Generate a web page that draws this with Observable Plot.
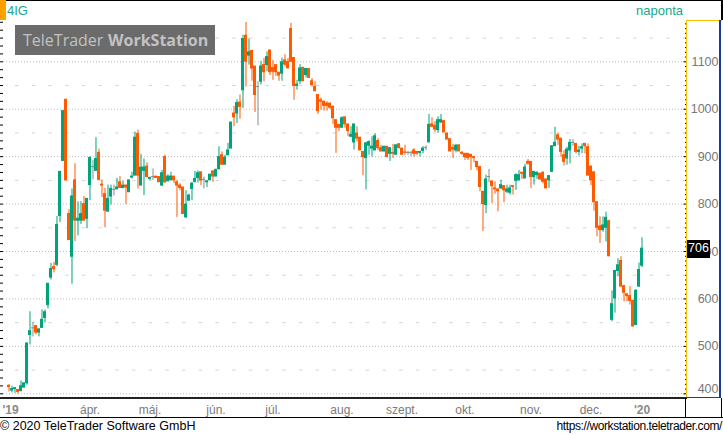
<!DOCTYPE html>
<html><head><meta charset="utf-8">
<script src="https://cdn.jsdelivr.net/npm/d3@7"></script>
<script src="https://cdn.jsdelivr.net/npm/@observablehq/plot@0.6"></script>
<style>
body{margin:0;background:#fff;}
#wrap{position:relative;width:723px;height:435px;overflow:hidden;background:#fff;font-family:"Liberation Sans",Arial,sans-serif;}
.ov{position:absolute;}
</style>
</head><body>
<div id="wrap">
<div id="chart" class="ov" style="left:0;top:0"></div>
</div>
<script>
// ===== data: 4IG daily OHLC (trading-day index 0..211) =====
const open = [417,407,410,408,406,413,422,524,538,543,
529,539,560,587,645,667,672,775,891,1020,
779,689,850,765,765,800,769,840,878,870,
908,841,821,784,816,830,831,846,834,839,
825,856,860,948,839,870,879,853,857,858,
857,839,899,848,850,858,846,839,835,772,
807,832,847,855,867,851,846,850,869,858,
874,903,883,903,917,991,991,1014,1040,1155,
1113,1123,1090,1047,1058,1093,1093,1124,1087,1093,
1077,1075,1103,1100,1169,1108,1049,1059,1087,1072,
1085,1059,1047,1030,1019,1016,1012,1012,1005,977,
967,961,983,968,942,930,949,940,910,897,
923,917,913,933,918,911,921,906,908,904,
926,917,909,908,908,913,910,908,912,918,
930,968,965,956,972,975,949,937,918,913,
924,908,906,906,904,899,889,878,826,798,
857,848,833,831,833,838,826,824,838,849,
850,866,854,889,889,857,861,864,866,852,
850,868,922,945,938,903,896,913,929,927,
910,917,927,920,879,867,804,753,745,750,
764,556,601,659,680,627,610,606,596,545,
626,670];
const close = [414,410,412,404,416,422,506,532,538,529,
536,556,572,632,663,663,756,868,996,850,
724,816,765,769,779,765,811,897,878,895,
851,839,786,811,832,830,835,834,839,835,
850,858,940,860,877,877,857,855,857,855,
846,865,846,858,858,850,839,834,779,799,
818,843,853,865,850,851,848,862,858,872,
899,883,898,913,972,983,1013,1005,1148,1100,
1120,1086,1030,1047,1090,1078,1110,1078,1079,1078,
1071,1099,1094,1086,1100,1049,1052,1086,1059,1085,
1066,1051,1038,996,1016,1007,1007,1003,981,961,
961,981,968,954,946,968,938,913,899,928,
931,921,943,918,911,921,899,918,906,924,
918,904,908,908,908,906,906,910,917,918,
967,963,957,977,977,951,936,911,915,923,
911,906,899,897,899,897,878,836,800,852,
857,838,831,827,840,829,831,833,836,861,
861,864,877,885,857,868,866,852,847,833,
859,922,929,936,910,889,915,929,929,910,
913,920,922,860,850,804,750,745,755,771,
690,589,659,671,626,613,606,596,542,617,
661,706];
const high = [419,416,412,409,427,423,508,573,551,543,
536,577,577,632,675,677,774,868,996,1020,
788,832,885,805,805,816,811,900,892,940,
916,851,833,840,840,840,854,858,849,840,
850,867,952,956,905,895,887,857,874,858,
858,871,903,862,867,858,850,843,835,828,
821,846,869,870,867,857,850,862,869,874,
921,910,903,928,972,1006,1020,1030,1156,1183,
1148,1123,1090,1058,1101,1107,1121,1124,1103,1093,
1077,1108,1115,1107,1181,1108,1061,1094,1089,1086,
1085,1065,1058,1030,1024,1016,1016,1012,1007,977,
967,984,983,968,963,968,963,940,910,930,
933,942,949,938,924,921,921,918,926,924,
928,917,924,911,911,917,910,910,921,923,
989,982,974,984,989,977,949,937,926,926,
924,911,906,906,904,899,889,878,826,861,
873,848,847,831,850,838,840,840,838,864,
871,866,884,894,889,868,868,864,868,852,
859,922,962,950,938,913,920,936,936,927,
922,927,927,927,880,867,804,773,773,783,
766,617,659,685,689,627,610,626,596,620,
676,729];
const low = [404,402,401,399,404,413,418,503,520,524,
520,538,549,579,640,655,668,761,891,850,
724,631,721,733,757,765,748,807,851,870,
851,814,750,784,798,817,831,833,832,799,
825,853,860,832,839,818,855,850,850,855,
846,837,843,848,850,843,772,828,779,770,
807,807,844,844,839,832,835,850,846,858,
871,882,883,903,917,963,970,979,1002,1047,
1093,1059,993,965,1051,1058,1079,1071,1061,1069,
1059,1059,1089,1086,1100,1019,1040,1052,1059,1066,
1066,1047,1037,989,998,996,996,1000,968,907,
953,960,960,942,940,914,931,913,860,830,
903,899,913,913,910,910,899,890,896,904,
916,903,903,903,900,899,903,899,906,913,
930,961,951,949,970,951,936,911,896,908,
911,903,892,892,871,887,870,826,742,780,
845,801,821,784,831,803,822,819,819,829,
850,852,854,882,833,840,852,850,843,833,
833,868,922,924,899,880,882,885,922,906,
901,906,906,860,839,785,731,717,741,720,
689,552,570,647,626,594,594,587,540,545,
624,666];

// x-axis: month labels at the trading-day index where each month starts
const monthLabels = ["ápr.","máj.","jún.","júl.","aug.","szept.","okt.","nov.","dec."];
const monthStart  = [27, 47, 69, 88, 111, 131, 152, 174, 194];
const yearLabels  = ["'19","'20"];
const yearStart   = [0.5, 211];
// y-axis tick labels
const yLabels = [500,600,700,800,900,1000,1100];
const yLabelBottom = [400];
const gridMajor = [400,500,600,700,800,900,1000,1100];
const gridMinor = [450,550,650,750,850,950,1050,1150];

const rows = open.map((o,i)=>({i, open:o, high:high[i], low:low[i], close:close[i]}));
const up = rows.filter(d=>d.close>d.open);
const down = rows.filter(d=>d.close<d.open);
const flat = rows.filter(d=>d.close===d.open);
const GREEN="#00a37c", ORANGE="#ff5a00", GRAY="#8a8a8a";

const rightMinor = d3.range(390, 1190, 10).filter(v=>v%100!==0);
const leftTicks = d3.range(-6, 48).map(k=>400 + k*100/6).filter(v=>v>=391 && v<=1187);

function candles(data, color){
  return [
    Plot.ruleX(data, {x:"i", y1:"low", y2:"high", stroke:color, strokeWidth:1}),
    Plot.rect(data, {x1:d=>d.i-0.5, x2:d=>d.i+0.5, y1:d=>Math.min(d.open,d.close), y2:d=>Math.max(d.open,d.close), fill:color, insetTop:-0.5, insetBottom:-0.5})
  ];
}

const plot = Plot.plot({
  width:723, height:418,
  marginTop:20, marginBottom:20, marginLeft:3, marginRight:37,
  x:{domain:[-1.8333, 225.8333], axis:null, label:null},
  y:{domain:[390.1, 1187.1], axis:null, label:null},
  style:{fontFamily:"'Liberation Sans', Arial, sans-serif", background:"transparent", overflow:"visible"},
  marks:[
    Plot.gridY(gridMajor, {stroke:"#bdbdbd", strokeOpacity:1, strokeDasharray:"1,2"}),
    Plot.gridY(gridMinor, {stroke:"#d4d4d4", strokeOpacity:1, strokeDasharray:"3.5,13.2", strokeDashoffset:4.7}),
    ...candles(up, GREEN),
    ...candles(down, ORANGE),
    ...candles(flat, GRAY),
    Plot.axisY(leftTicks, {anchor:"left", tickSize:3, tickFormat:()=>"", stroke:"#000", label:null}),
    Plot.axisY(rightMinor, {anchor:"right", tickSize:-2, tickFormat:()=>"", stroke:"#000", label:null}),
    Plot.axisY(gridMajor, {anchor:"right", tickSize:-3.5, tickFormat:()=>"", stroke:"#000", label:null}),
    Plot.text(yLabels, {y:d=>d, text:d=>String(d), frameAnchor:"right", dx:32, textAnchor:"end", fontSize:12.5, fill:"#777"}),
    Plot.text(yLabelBottom, {y:d=>d, text:d=>String(d), frameAnchor:"right", dx:32, dy:-5, textAnchor:"end", fontSize:12.5, fill:"#777"}),
    Plot.axisX(monthStart, {anchor:"bottom", tickSize:0, tickPadding:7, tickFormat:d=>monthLabels[monthStart.indexOf(d)], fontSize:12, fill:"#7a7a7a", label:null}),
    Plot.axisX(yearStart, {anchor:"bottom", tickSize:0, tickPadding:7, tickFormat:d=>yearLabels[yearStart.indexOf(d)], fontSize:12, fontWeight:"bold", fill:"#8a8a8a", label:null})
  ]
});
document.getElementById("chart").appendChild(plot);

const wrap = document.getElementById("wrap");
function box(l,t,w,h,bg){const e=document.createElement("div");e.className="ov";Object.assign(e.style,{left:l+"px",top:t+"px",width:w+"px",height:h+"px",background:bg});wrap.appendChild(e);return e;}
function txt(s,l,t,css){const e=document.createElement("div");e.className="ov";e.textContent=s;e.style.left=l+"px";e.style.top=t+"px";e.style.whiteSpace="nowrap";Object.assign(e.style,css||{});wrap.appendChild(e);return e;}

// frame decorations
box(0,0,6,20,"#ffa200");
box(6,0,717,1,"#000");
box(721,0,2,20,"#000");
box(686,20,36,1,"#f2c200");
box(686,20,1,378,"#f2c200");
box(719,20,2,378,"#1d3b9a");
box(686,397,35,1,"#1d3b9a");
box(0,397,686,1.5,"#222");
box(685,398,1,19,"#000");
box(721,398,1,19,"#000");
box(0,417,723,1,"#000");

// header texts
txt("4IG",7,3,{font:"13px 'Liberation Sans',Arial,sans-serif",color:"#17a88c"});
txt("naponta",636,3,{font:"13px 'Liberation Sans',Arial,sans-serif",color:"#17a88c"});

// watermark
box(15,25,200,30,"#6b6b6b");
txt("TeleTrader",23,29,{font:"16px 'Open Sans','Noto Sans',sans-serif",color:"#c2c2c2",lineHeight:"22px"});
txt("WorkStation",108,29,{font:"bold 16px 'Open Sans','Noto Sans',sans-serif",color:"#c2c2c2",lineHeight:"22px"});

// last price label
const lastClose = close[close.length-1];
const ly = plot.scale("y").apply(lastClose);
box(686.5, ly-8.5, 23.5, 18, "#000");
txt(String(lastClose), 688, ly-8, {font:"12.5px 'Liberation Sans',Arial,sans-serif",color:"#fff",lineHeight:"17px"});

// footer
txt("© 2020 TeleTrader Software GmbH",0,418,{font:"12.5px 'Liberation Sans',Arial,sans-serif",color:"#000",lineHeight:"16px"});
const u = txt("https://workstation.teletrader.com/",0,418,{font:"12px 'Liberation Sans',Arial,sans-serif",color:"#000",letterSpacing:"-0.4px",lineHeight:"16px"});
u.style.left = (722 - u.getBoundingClientRect().width) + "px";
</script>
</body></html>
